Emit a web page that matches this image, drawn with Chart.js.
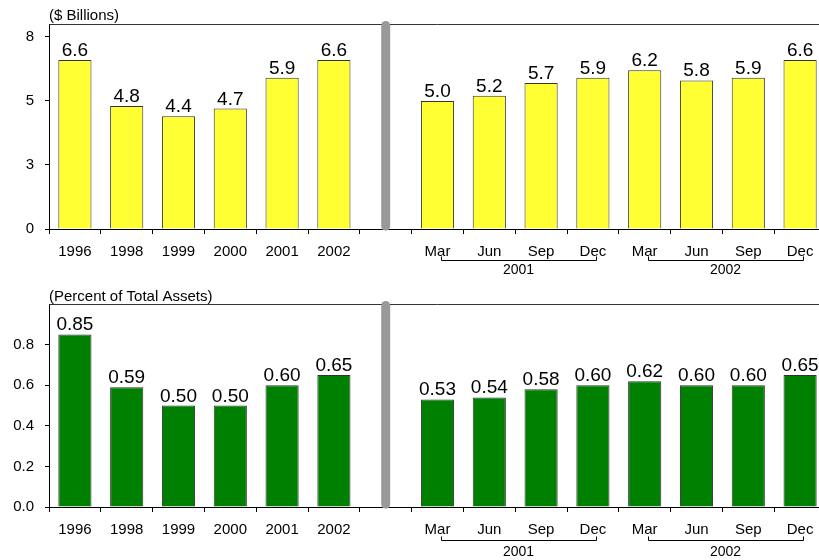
<!DOCTYPE html>
<html>
<head>
<meta charset="utf-8">
<script src="https://cdn.jsdelivr.net/npm/chart.js@4"></script>
<style>
  body { margin: 0; background: #fff; overflow: hidden; width: 819px; height: 560px; }
  canvas { display: block; }
</style>
</head>
<body>
<canvas id="topChart" width="826" height="280"></canvas>
<canvas id="bottomChart" width="826" height="280"></canvas>
<script>
// Categories (index 6 is the gap with the separator)
const categories = ['1996', '1998', '1999', '2000', '2001', '2002', '', 'Mar', 'Jun', 'Sep', 'Dec', 'Mar', 'Jun', 'Sep', 'Dec'];
const quarterYears = ['2001', '2002'];
const quarterGroups = [[7, 10], [11, 14]];
const gapIndex = 6;

// $ Billions
const billions = [6.6, 4.8, 4.4, 4.7, 5.9, 6.6, null, 5.0, 5.2, 5.7, 5.9, 6.2, 5.8, 5.9, 6.6];
const billionTicks = [0, 2.5, 5, 7.5];
const billionTickLabels = ['0', '3', '5', '8'];

// Percent of total assets
const percentAssets = [0.85, 0.59, 0.50, 0.50, 0.60, 0.65, null, 0.53, 0.54, 0.58, 0.60, 0.62, 0.60, 0.60, 0.65];
const percentTicks = [0, 0.2, 0.4, 0.6, 0.8];
const percentTickLabels = ['0.0', '0.2', '0.4', '0.6', '0.8'];

const FONT = '"Liberation Sans", Arial, sans-serif';
Chart.defaults.font.family = FONT;
Chart.defaults.color = '#000';

// Title, top border, separator, value labels and year brackets
const decorations = {
  id: 'decorations',
  afterDraw(chart, args, opts) {
    const ctx = chart.ctx;
    const area = chart.chartArea;
    const x = chart.scales.x;
    ctx.save();

    // top border
    ctx.strokeStyle = '#333';
    ctx.lineWidth = 1;
    ctx.beginPath();
    ctx.moveTo(area.left, area.top + 0.5);
    ctx.lineTo(area.right, area.top + 0.5);
    ctx.stroke();

    // title
    ctx.fillStyle = '#000';
    ctx.font = '15px ' + FONT;
    ctx.textAlign = 'left';
    ctx.textBaseline = 'middle';
    ctx.fillText(opts.title, area.left, opts.titleY);

    // value labels
    ctx.font = '19px ' + FONT;
    ctx.textAlign = 'center';
    ctx.textBaseline = 'alphabetic';
    const meta = chart.getDatasetMeta(0);
    const values = chart.data.datasets[0].data;
    meta.data.forEach((bar, i) => {
      if (values[i] == null) return;
      ctx.fillText(values[i].toFixed(opts.decimals), bar.x, bar.y - 4);
    });

    // separator
    const sx = x.getPixelForValue(gapIndex);
    ctx.strokeStyle = '#999';
    ctx.lineWidth = 9;
    ctx.lineCap = 'round';
    ctx.beginPath();
    ctx.moveTo(sx, area.top + 1.5);
    ctx.lineTo(sx, area.bottom - 3);
    ctx.stroke();

    // year brackets under the quarters
    ctx.strokeStyle = '#000';
    ctx.lineWidth = 1;
    ctx.lineCap = 'butt';
    ctx.font = '14px ' + FONT;
    ctx.textBaseline = 'middle';
    quarterGroups.forEach(([from, to], g) => {
      const x0 = Math.round(x.getPixelForValue(from)) + 3;
      const x1 = Math.round(x.getPixelForValue(to)) + 3;
      const y = Math.round(area.bottom + opts.bracketY) + 0.5;
      ctx.beginPath();
      ctx.moveTo(x0 + 0.5, y - 4);
      ctx.lineTo(x0 + 0.5, y);
      ctx.lineTo(x1 + 0.5, y);
      ctx.lineTo(x1 + 0.5, y - 4);
      ctx.stroke();
      ctx.fillText(quarterYears[g], (x0 + x1) / 2, area.bottom + opts.yearY);
    });
    ctx.restore();
  }
};

function makeChart(id, values, color, tickValues, tickLabels, max, xHeight, opts) {
  return new Chart(document.getElementById(id), {
    type: 'bar',
    data: {
      labels: categories,
      datasets: [{
        data: values,
        backgroundColor: color,
        borderColor: '#333',
        borderWidth: 1,
        barPercentage: 0.64,
        categoryPercentage: 1
      }]
    },
    options: {
      responsive: false,
      animation: false,
      layout: { padding: { top: 24, left: 0, right: 0, bottom: 0 } },
      plugins: {
        legend: { display: false },
        tooltip: { enabled: false },
        decorations: opts
      },
      scales: {
        x: {
          afterFit: s => { s.height = xHeight; },
          grid: { drawOnChartArea: false, drawTicks: true, tickLength: 5, color: '#000', offset: true },
          border: { color: '#000', width: 1 },
          ticks: { autoSkip: false, maxRotation: 0, padding: 9, font: { size: 15 } }
        },
        y: {
          min: 0,
          max: max,
          afterFit: s => { s.width = 49; },
          afterBuildTicks: s => { s.ticks = tickValues.map(v => ({ value: v })); },
          grid: { drawOnChartArea: false, tickLength: 4, color: '#000' },
          border: { color: '#000', width: 1 },
          ticks: { padding: 11, font: { size: 15 }, callback: (v, i) => tickLabels[i] }
        }
      }
    },
    plugins: [decorations]
  });
}

makeChart('topChart', billions, '#FFFF33', billionTicks, billionTickLabels, 8, 51,
  { title: '($ Billions)', titleY: 16, decimals: 1, bracketY: 31, yearY: 41 });
makeChart('bottomChart', percentAssets, '#008000', percentTicks, percentTickLabels, 1, 53,
  { title: '(Percent of Total Assets)', titleY: 17, decimals: 2, bracketY: 32.5, yearY: 45 });
</script>
</body>
</html>
